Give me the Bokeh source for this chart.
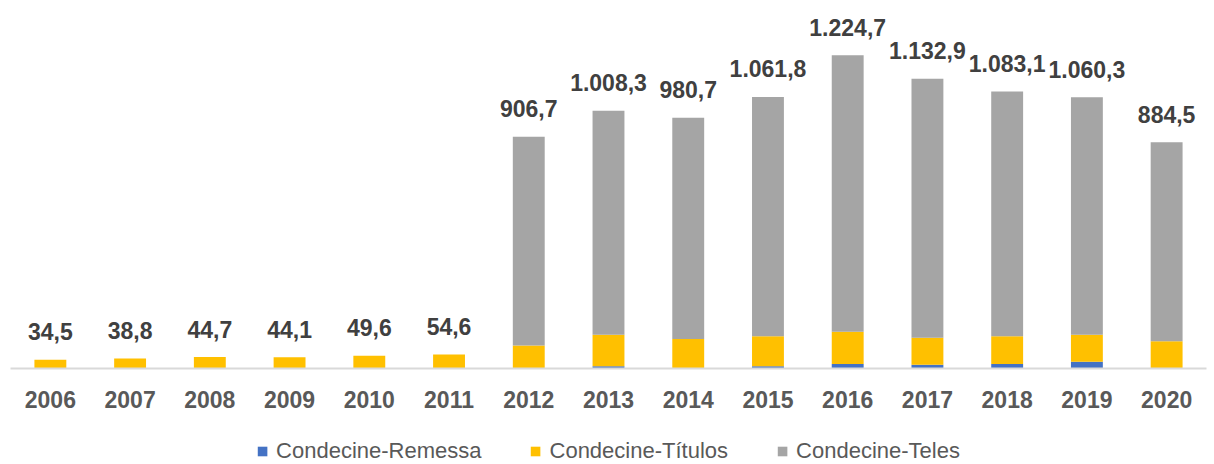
from bokeh.plotting import figure
from bokeh.models import ColumnDataSource, Legend, LegendItem, Range1d
from bokeh.layouts import column
from bokeh.core.properties import value
from bokeh.embed import file_html
from bokeh.resources import INLINE

years = ["2006", "2007", "2008", "2009", "2010", "2011", "2012", "2013",
         "2014", "2015", "2016", "2017", "2018", "2019", "2020"]
remessa = [0, 0, 0, 0, 0, 0, 0, 9, 0, 9, 18, 15, 18, 26, 0]
titulos = [34.5, 38.8, 44.7, 44.1, 49.6, 54.6, 90, 123, 115, 117, 126, 105, 108, 106, 107]
teles = [0, 0, 0, 0, 0, 0, 816.7, 876.3, 865.7, 935.8, 1080.7, 1012.9, 957.1, 928.3, 777.5]

series = ["Condecine-Remessa", "Condecine-Títulos", "Condecine-Teles"]
colors = ["#4472C4", "#FFC000", "#A5A5A5"]


def fmt_br(v):
    s = f"{v:,.1f}"
    return s.replace(",", "X").replace(".", ",").replace("X", ".")


totals = [round(a + b + c, 1) for a, b, c in zip(remessa, titulos, teles)]
labels = [fmt_br(t) for t in totals]

src = ColumnDataSource(dict(year=years, r=remessa, t=titulos, te=teles,
                            total=totals, label=labels))

FONT = "Liberation Sans"

p = figure(x_range=years, y_range=Range1d(0, 1400), width=1208, height=436,
           output_backend="svg", toolbar_location=None,
           min_border_left=10, min_border_right=2, min_border_top=10,
           min_border_bottom=68)

rs = p.vbar_stack(["r", "t", "te"], x="year", width=0.4, color=colors,
                  source=src, line_color=None)

p.text(x="year", y="total", text="label", source=src,
       text_align="center", text_baseline="alphabetic", y_offset=-28,
       text_font=value(FONT), text_font_style="bold",
       text_font_size="23px", text_color="#404040")

p.yaxis.visible = False
p.grid.visible = False
p.outline_line_color = None
p.x_range.range_padding = 0.0

xa = p.xaxis[0]
xa.axis_line_color = "#D9D9D9"
xa.axis_line_width = 2
xa.major_tick_line_color = None
xa.minor_tick_line_color = None
xa.major_label_standoff = 16
xa.major_label_text_font = FONT
xa.major_label_text_font_style = "bold"
xa.major_label_text_font_size = "23px"
xa.major_label_text_color = "#595959"

# separate strip holding the legend under the chart
lg = figure(width=1208, height=28, x_range=Range1d(0, 1), y_range=Range1d(0, 1),
            output_backend="svg", toolbar_location=None,
            min_border_left=10, min_border_right=2, min_border_top=0,
            min_border_bottom=0)
lg.axis.visible = False
lg.grid.visible = False
lg.outline_line_color = None
# one off-screen key swatch per series (outside the visible 0..1 ranges)
keysrc = ColumnDataSource(dict(x=[-5], top=[-5]))
dummies = [lg.vbar(x="x", top="top", width=0.1, source=keysrc,
                   fill_color=c, line_color=None) for c in colors]

legend = Legend(items=[LegendItem(label=s, renderers=[r]) for s, r in zip(series, dummies)],
                orientation="horizontal", location="bottom_center",
                label_text_font=FONT, label_text_font_size="22px",
                label_text_color="#595959", glyph_width=12, glyph_height=12,
                label_height=22, spacing=48, border_line_color=None,
                background_fill_alpha=0, margin=0, padding=0, label_standoff=8)
lg.add_layout(legend, "center")

layout = column(p, lg, spacing=0)
open("out.html", "w").write(file_html(layout, INLINE))
